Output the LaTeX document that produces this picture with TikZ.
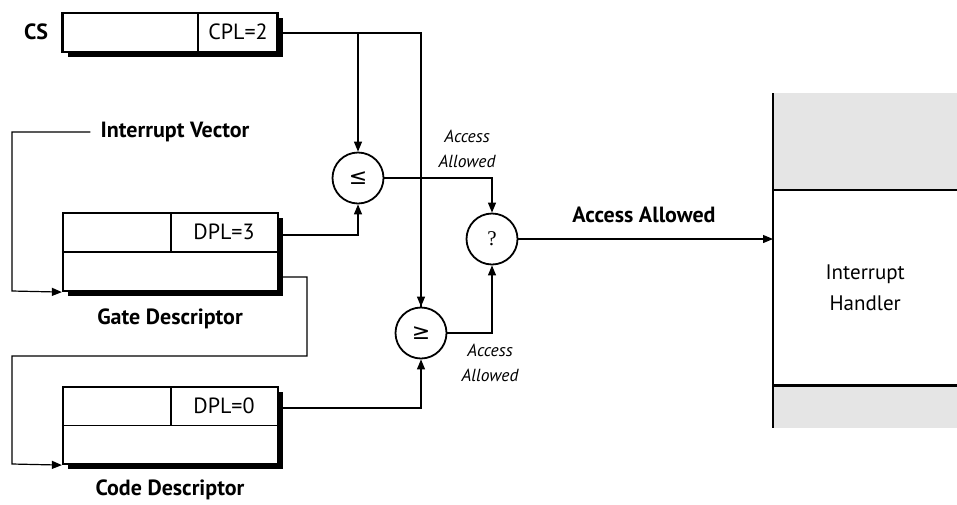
\documentclass[tikz,border=0pt]{standalone}
\usepackage{fontspec}
\setmainfont{PT Sans}
\newfontfamily\symfont{DejaVu Sans}
\newfontfamily\serfont{Liberation Serif}
\usetikzlibrary{arrows.meta,shadows}
\begin{document}
\begin{tikzpicture}[x=1pt,y=-1pt,
  conn/.style={line width=1.2pt,-{Triangle[length=10pt,width=8pt]}},
  plain/.style={line width=1.2pt},
  regbox/.style={draw,line width=2.2pt,fill=white,minimum width=215pt,inner sep=0pt,
     drop shadow={shadow xshift=5pt,shadow yshift=-5pt,fill=black,opacity=1}},
  gate/.style={circle,draw,line width=1.8pt,minimum size=51pt,inner sep=0pt,fill=white},
  lbl/.style={font=\fontsize{22}{24}\selectfont\bfseries},
  txt/.style={font=\fontsize{22}{24}\selectfont},
  small/.style={font=\fontsize{17.5}{25}\selectfont\itshape,align=center}]
\useasboundingbox (0,0) rectangle (957,504);
% handler
\fill[gray!20] (773,93) rectangle (957,190);
\fill[gray!20] (773,385) rectangle (957,428);
\node[minimum width=184pt,minimum height=195pt,inner sep=0pt,anchor=north west,align=center,
  font=\fontsize{21}{31}\selectfont] (hmid) at (773,190) {Interrupt\\Handler};
\draw[line width=2.4pt] (773,93) -- (773,428);
\draw[line width=2.4pt] (hmid.north west) -- (hmid.north east);
\draw[line width=2.4pt] (hmid.south west) -- (hmid.south east);
% CS register
\node[regbox,minimum height=39pt] (cs) at (170,32.5) {};
\draw[line width=1.2pt] (198,13) -- (198,52);
\node[txt] (cpl) at (238,32) {CPL=2};
\node[lbl] (cslbl) at (36,32) {CS};
% gate descriptor
\node[regbox,minimum height=78pt] (gate) at (170.5,252) {};
\draw[line width=1.2pt] (gate.west) -- (gate.east);
\draw[line width=1.2pt] (171,213) -- (171,252);
\node[txt] (dpl3) at (224,232) {DPL=3};
\node[lbl] (gatelbl) at (170,319) {Gate Descriptor};
% code descriptor
\node[regbox,minimum height=77pt] (code) at (170.5,425.5) {};
\draw[line width=1.2pt] (code.west) -- (code.east);
\draw[line width=1.2pt] (171,387) -- (171,426);
\node[txt] (dpl0) at (224,406) {DPL=0};
\node[lbl] (codelbl) at (170,490) {Code Descriptor};
% interrupt vector
\node[lbl,inner sep=10pt] (iv) at (175,132) {Interrupt Vector};
% comparators
\node[gate] (le) at (358,178) {\symfont\fontsize{22}{22}\selectfont ≤};
\node[gate] (ge) at (421,333) {\symfont\fontsize{22}{22}\selectfont ≥};
\node[gate] (q) at (492,239) {\serfont\fontsize{21}{21}\selectfont ?};
% labels
\node[small] (aa1) at (467,149) {Access\\Allowed};
\node[small] (aa2) at (490,363) {Access\\Allowed};
\node[lbl] (aa) at (644,215) {Access Allowed};
% coordinates
\coordinate (csr) at (283,33);
\coordinate (j1) at (358,33);
\coordinate (g3) at (283,235);
\coordinate (gb) at (283,277);
\coordinate (c0) at (283,408);
% connectors
\draw[plain] (csr) -| (ge.north);
\draw[conn] (ge.north |- csr) -- (ge.north);
\draw[conn] (j1) -- (le.north);
\draw[conn] (g3) -| (le.south);
\draw[conn] (c0) -| (ge.south);
\draw[conn] (le.east) -| (q.north);
\draw[conn] (ge.east) -| (q.south);
\draw[conn] (q.east) -- (q.east -| hmid.west);
\draw[conn] (iv.west) -- (12,132) -- (12,291) -- (gate.south west);
\draw[conn] (gb) -- (307,277) -- (307,356) -- (12,356) -- (12,464) -- (code.south west);
\end{tikzpicture}
\end{document}
